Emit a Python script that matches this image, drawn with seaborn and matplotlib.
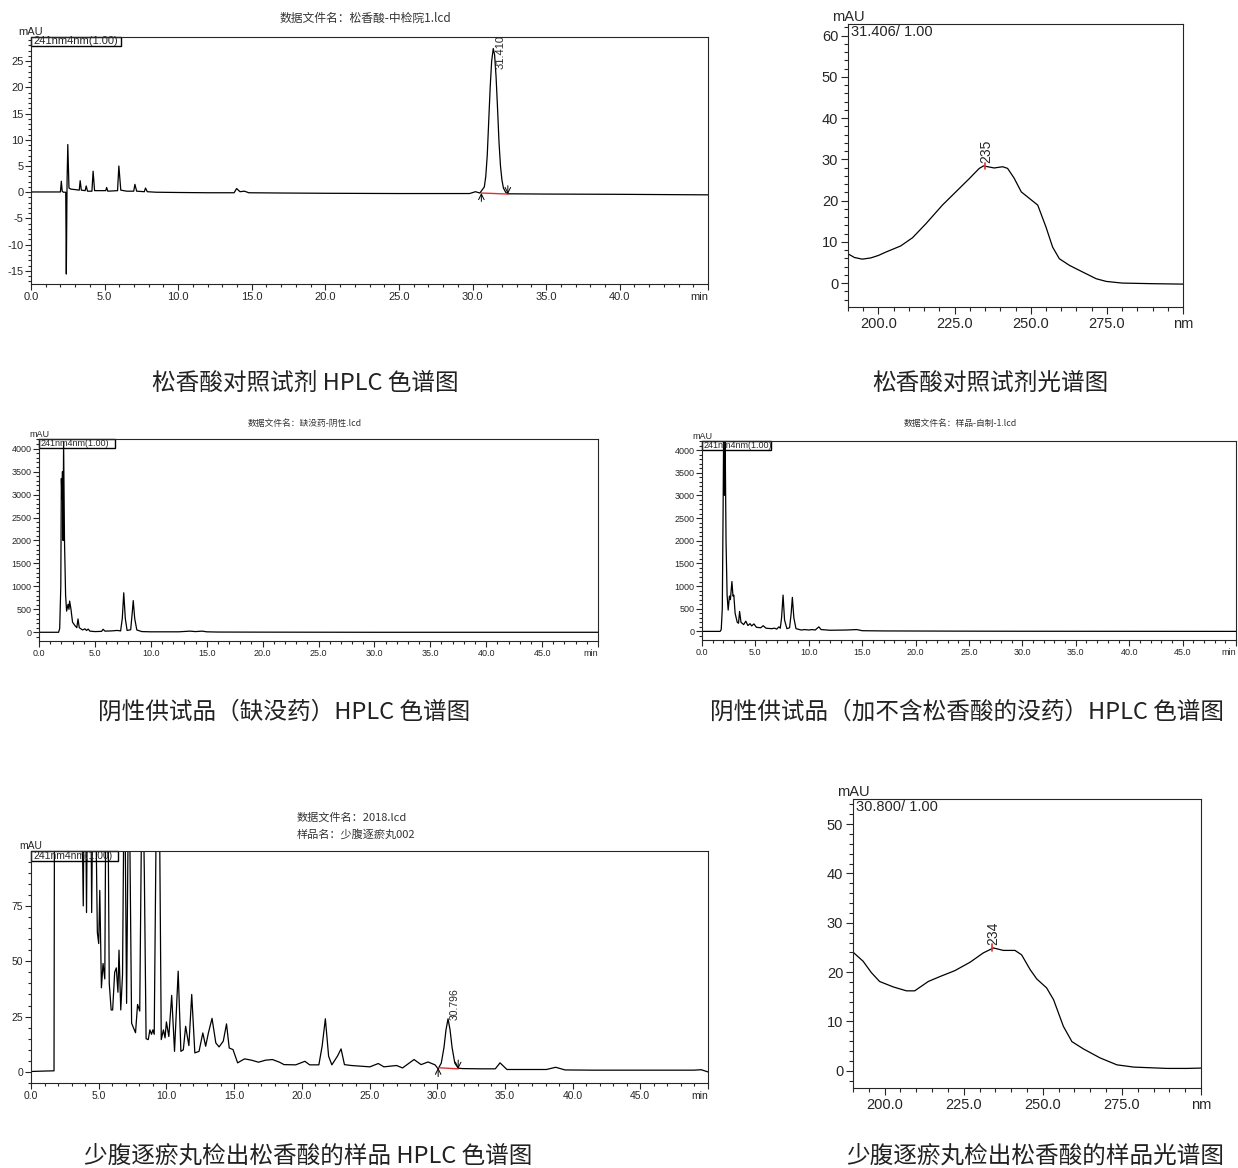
import numpy as np
import pandas as pd
import matplotlib
matplotlib.use('Agg')
import matplotlib.pyplot as plt
import seaborn as sns
from matplotlib.ticker import MultipleLocator, FixedLocator, FixedFormatter
from matplotlib.patches import Rectangle

# ---------------- data ----------------
# 松香酸对照试剂 HPLC  (min, mAU)
ref_trace = [(0, 0.05), (1.0, 0.05), (2.0, 0.05), (2.06, 2.1), (2.12, 0.2), (2.2, 0.0),
             (2.36, 0.0), (2.40, -15.6), (2.45, 2.0), (2.50, 9.1), (2.58, 0.8), (2.7, 0.6),
             (3.0, 0.5), (3.28, 0.4), (3.34, 2.2), (3.42, 0.4), (3.68, 0.3), (3.75, 1.2),
             (3.84, 0.2), (4.14, 0.2), (4.22, 4.0), (4.32, 0.3), (4.7, 0.3), (5.08, 0.3),
             (5.14, 0.9), (5.22, 0.2), (5.88, 0.3), (5.97, 5.0), (6.1, 0.4), (6.5, 0.2),
             (6.98, 0.2), (7.06, 1.5), (7.18, 0.2), (7.7, 0.1), (7.78, 0.8), (7.9, 0.1),
             (8.5, 0.0), (10, -0.05), (12, -0.1), (13.8, -0.1), (13.97, 0.7), (14.2, 0.1),
             (14.5, 0.2), (14.8, -0.1), (17, -0.15), (20, -0.2), (25, -0.25), (29.8, -0.25),
             (30.2, 0.1), (30.5, -0.15), (30.8, 1.0), (30.9, 3.0), (31.0, 7.0), (31.1, 13.5),
             (31.2, 20.0), (31.3, 25.0), (31.41, 27.4), (31.5, 26.2), (31.6, 22.0), (31.7, 16.0),
             (31.8, 9.5), (31.9, 5.0), (32.0, 2.3), (32.1, 0.8), (32.25, 0.0), (32.4, -0.3),
             (35, -0.35), (40, -0.4), (46, -0.5)]
ref_peak = (31.9, 23.5, '31.410')
ref_bounds = [(30.6, -0.15), (32.4, -0.35)]

# 松香酸对照试剂光谱 (nm, mAU)
spec_ref = [(190, 7.1), (192.1, 6.2), (194.7, 5.8), (197.5, 6.1), (200, 6.7), (202.4, 7.5),
            (207.3, 9.0), (211.2, 11.0), (215.6, 14.4), (221, 18.9), (225.4, 22.1),
            (229.8, 25.3), (233.1, 27.8), (234.5, 28.4), (238, 27.9), (240.8, 28.2),
            (242.4, 27.8), (244.5, 25.5), (246.9, 22.1), (249.6, 20.5), (252.3, 18.9),
            (255, 13.6), (257.2, 8.7), (259.4, 5.9), (262.7, 4.3), (267, 2.7), (271.5, 1.05),
            (274.8, 0.4), (280, 0.0), (290, -0.15), (300, -0.25)]
spec_ref_peak = (235, 28.4, '235')
spec_ref_tag = '31.406/ 1.00'

# 阴性供试品（缺没药）
neg1_trace = [(0, 0), (1.75, 0), (1.85, 80), (1.95, 1000), (2.0, 3350), (2.05, 2900),
              (2.1, 3500), (2.15, 2000), (2.2, 4150), (2.28, 2000), (2.38, 800), (2.47, 460),
              (2.6, 610), (2.68, 500), (2.74, 680), (2.85, 520), (3.0, 220), (3.2, 150),
              (3.38, 100), (3.49, 290), (3.6, 100), (3.9, 50), (4.1, 75), (4.25, 40),
              (4.4, 70), (4.55, 25), (5.0, 15), (5.6, 20), (5.73, 65), (5.9, 25), (6.5, 30),
              (7.0, 40), (7.3, 30), (7.45, 300), (7.58, 860), (7.72, 300), (7.88, 40),
              (8.2, 55), (8.33, 400), (8.43, 690), (8.56, 300), (8.75, 50), (9.2, 15),
              (10, 10), (12.5, 10), (13.5, 25), (14.0, 15), (14.6, 25), (15.0, 10), (16, 5),
              (20, 3), (30, 0), (50, 0)]

# 阴性供试品（加不含松香酸的没药）
neg2_trace = [(0, 0), (1.7, 0), (1.8, 40), (1.9, 500), (1.97, 2500), (2.02, 4200), (2.1, 3000),
              (2.17, 4200), (2.25, 2000), (2.35, 800), (2.45, 470), (2.57, 780), (2.66, 700),
              (2.8, 1100), (2.9, 780), (2.98, 800), (3.1, 400), (3.3, 200), (3.42, 180),
              (3.52, 440), (3.65, 200), (3.9, 150), (4.1, 225), (4.3, 130), (4.5, 170),
              (4.65, 120), (4.86, 165), (5.1, 90), (5.5, 80), (5.73, 125), (6.0, 70),
              (6.5, 60), (6.8, 70), (7.0, 50), (7.2, 100), (7.33, 70), (7.45, 300),
              (7.59, 800), (7.73, 250), (7.95, 60), (8.2, 80), (8.35, 400), (8.46, 750),
              (8.6, 300), (8.8, 60), (9.3, 30), (9.6, 40), (10.0, 30), (10.3, 40), (10.6, 30),
              (10.94, 100), (11.15, 40), (12, 25), (13.5, 30), (14.5, 40), (15, 15), (17, 10),
              (20, 8), (25, 5), (30, 3), (50, 0)]

# 少腹逐瘀丸样品 (values of 150 are off scale)
sample_trace = [(0, 0.2), (1.0, 0.4), (1.70, 0.5), (1.74, 150), (3.7, 150), (3.86, 75),
                (3.95, 150), (4.0, 150), (4.1, 72), (4.2, 150), (4.4, 150), (4.48, 72),
                (4.6, 150), (4.72, 150), (4.9, 63), (5.0, 58), (5.08, 82), (5.2, 38),
                (5.32, 49), (5.45, 42), (5.55, 150), (5.65, 150), (5.78, 40), (5.92, 28),
                (6.03, 28), (6.18, 45), (6.3, 47), (6.42, 36), (6.5, 55), (6.63, 28),
                (6.76, 44), (6.9, 150), (7.06, 31), (7.23, 150), (7.43, 22), (7.72, 17.7),
                (7.87, 30.5), (8.03, 27.5), (8.22, 150), (8.37, 90), (8.5, 15), (8.66, 14.6),
                (8.78, 19), (8.9, 17), (9.0, 19), (9.1, 17), (9.3, 150), (9.45, 150),
                (9.62, 14.6), (9.78, 19), (9.9, 15.4), (10.0, 22.6), (10.18, 16), (10.39, 34.6),
                (10.6, 9.3), (10.87, 45.5), (11.07, 9.3), (11.25, 10), (11.42, 20.6),
                (11.66, 11.9), (11.87, 35), (12.1, 8.6), (12.41, 9.3), (12.69, 17.6),
                (12.9, 11.6), (13.1, 17.6), (13.37, 24.2), (13.65, 13.1), (13.89, 11.3),
                (14.2, 13.9), (14.44, 21.7), (14.64, 10.8), (14.92, 10.1), (15.09, 7.1),
                (15.26, 4.1), (15.77, 5.9), (16.29, 5.3), (16.8, 4.4), (17.32, 5.3),
                (17.83, 5.6), (18.35, 4.4), (18.69, 3.3), (19.55, 3.2), (20.23, 4.8),
                (20.58, 3.2), (21.26, 3.2), (21.5, 11.6), (21.74, 24.0), (21.98, 7.1),
                (22.22, 3.2), (22.63, 7.1), (22.9, 10.4), (23.15, 3.3), (23.66, 2.9),
                (25.03, 2.3), (25.65, 3.8), (26.06, 2.3), (27.0, 2.9), (27.44, 1.8),
                (28.29, 5.6), (28.81, 3.3), (29.32, 4.5), (29.84, 3.2), (30.07, 1.4),
                (30.3, 4.0), (30.5, 11.0), (30.65, 19.0), (30.8, 24.0), (30.95, 19.0),
                (31.1, 11.0), (31.3, 4.0), (31.55, 1.7), (31.89, 1.5), (33.27, 1.4),
                (34.29, 1.4), (34.64, 4.1), (35.15, 1.1), (38.07, 1.1), (38.75, 2.1),
                (39.44, 0.9), (41.5, 0.8), (46.6, 0.8), (48.97, 0.8), (49.5, 1.0), (50, 0)]
sample_peak = (31.3, 23.5, '30.796')
sample_bounds = [(30.07, 1.9), (31.55, 1.4)]

# 样品光谱
spec_sample = [(190, 24.05), (193.2, 22.2), (195.8, 19.9), (198.4, 18.1), (202.7, 17.0),
               (206.9, 16.2), (209.5, 16.2), (213.8, 18.1), (217.5, 19.1), (222.2, 20.3),
               (227, 22.0), (231.2, 23.9), (234.4, 24.9), (237.5, 24.4), (241.2, 24.4),
               (243.3, 23.5), (246, 20.5), (248.1, 18.6), (251.2, 16.8), (253.4, 14.4),
               (256.5, 9.0), (259.2, 5.9), (262.9, 4.4), (268.1, 2.6), (273.4, 1.2),
               (278.7, 0.74), (289.3, 0.47), (295.6, 0.47), (300, 0.54)]
spec_sample_peak = (234, 24.9, '234')
spec_sample_tag = '30.800/ 1.00'

channel_label = '241nm4nm(1.00)'

# ---------------- drawing ----------------
sns.set_style('ticks')
plt.rcParams['font.family'] = ['Liberation Sans', 'Noto Sans CJK SC', 'DejaVu Sans']
plt.rcParams['axes.unicode_minus'] = False
plt.rcParams['axes.linewidth'] = 0.8

W, H = 1238, 1168
fig = plt.figure(figsize=(W / 100, H / 100), dpi=100)
CJK = ['Noto Sans CJK SC', 'DejaVu Sans']
NARROW = ['Liberation Sans Narrow', 'Liberation Sans']


def box(l, t, r, b):
    return [l / W, 1 - b / H, (r - l) / W, (b - t) / H]


def ftext(x, y, s, **kw):
    fig.text(x / W, 1 - y / H, s, **kw)


def trace(ax, pairs):
    df = pd.DataFrame(pairs, columns=['t', 'v'])
    sns.lineplot(data=df, x='t', y='v', ax=ax, color='black', lw=0.9,
                 estimator=None, sort=False)
    ax.set_xlabel('')
    ax.set_ylabel('')


def chrom(rect, pairs, xmax, ylim, ymaj, ymin_, fs, lab_w, lab_h):
    ax = fig.add_axes(box(*rect))
    trace(ax, pairs)
    ax.set_xlim(0, xmax)
    ax.set_ylim(*ylim)
    majors = [m for m in range(0, 50, 5) if m <= xmax - 3] + [xmax]
    ax.xaxis.set_major_locator(FixedLocator(majors))
    ax.xaxis.set_major_formatter(FixedFormatter([f'{m:.1f}' for m in majors[:-1]] + ['min']))
    ax.xaxis.set_minor_locator(MultipleLocator(1))
    ax.yaxis.set_major_locator(MultipleLocator(ymaj))
    ax.yaxis.set_minor_locator(MultipleLocator(ymin_))
    ax.tick_params(which='both', direction='out', labelsize=fs, width=0.8, pad=1.5)
    ax.tick_params(which='major', length=4)
    ax.tick_params(which='minor', length=2.5)
    for lab in ax.get_xticklabels() + ax.get_yticklabels():
        lab.set_family(NARROW)
    ax.get_xticklabels()[-1].set_horizontalalignment('right')
    aw = rect[2] - rect[0]
    ah = rect[3] - rect[1]
    ax.add_patch(Rectangle((0, 1 - lab_h / ah), lab_w / aw, lab_h / ah,
                           transform=ax.transAxes, fill=False, ec='black', lw=1.0, clip_on=False))
    ax.text(2 / aw, 1 - lab_h / ah / 2, channel_label, transform=ax.transAxes,
            ha='left', va='center', fontsize=fs, family=NARROW)
    ax.text(0.0, 1.0, 'mAU', transform=ax.transAxes, ha='center', va='bottom',
            fontsize=fs, family=NARROW)
    return ax


def spectrum(rect, pairs, ylim, peak, tag):
    ax = fig.add_axes(box(*rect))
    trace(ax, pairs)
    ax.set_xlim(190, 300)
    ax.set_ylim(*ylim)
    ax.xaxis.set_major_locator(FixedLocator([200, 225, 250, 275, 300]))
    ax.xaxis.set_major_formatter(FixedFormatter(['200.0', '225.0', '250.0', '275.0', 'nm']))
    ax.xaxis.set_minor_locator(MultipleLocator(5))
    ax.yaxis.set_major_locator(MultipleLocator(10))
    ax.yaxis.set_minor_locator(MultipleLocator(2))
    ax.tick_params(which='both', direction='out', labelsize=10.5, width=0.8, pad=2)
    ax.tick_params(which='major', length=5)
    ax.tick_params(which='minor', length=3)
    px, py, s = peak
    ax.plot([px, px], [py - 0.7, py + 0.7], color='#e03030', lw=1.2)
    ax.text(px + 0.3, py + 0.6, s, rotation=90, ha='center', va='bottom', fontsize=10)
    ax.text(0.01, 0.995, tag, transform=ax.transAxes, ha='left', va='top', fontsize=10.5)
    ax.text(0.0, 1.0, 'mAU', transform=ax.transAxes, ha='center', va='bottom', fontsize=10.5)
    return ax


def integration(ax, bounds, dy):
    (x0, y0), (x1, y1) = bounds
    ax.plot([x0, x1], [y0, y1], color='#e03030', lw=1.0)
    ax.annotate('', xy=(x0, y0), xytext=(x0, y0 - dy),
                arrowprops=dict(arrowstyle='->', lw=0.7, color='black', shrinkA=0, shrinkB=0))
    ax.annotate('', xy=(x1, y1), xytext=(x1, y1 + dy),
                arrowprops=dict(arrowstyle='->', lw=0.7, color='black', shrinkA=0, shrinkB=0))


# panel 1
ax1 = chrom((31, 37, 708, 284), ref_trace, 46, (-17.5, 29.6), 5, 1, 8, 90, 9)
integration(ax1, ref_bounds, 1.6)
ax1.text(ref_peak[0], ref_peak[1], ref_peak[2], rotation=90, ha='center', va='bottom',
         fontsize=8, family=NARROW)
ftext(365, 18, '数据文件名：松香酸-中检院1.lcd', ha='center', va='center', fontsize=8.5,
      family=CJK, color='#333333')

# panel 2
spectrum((848, 24, 1183, 307), spec_ref, (-5.8, 62.8), spec_ref_peak, spec_ref_tag)

# panel 3
chrom((39, 439, 598, 641), neg1_trace, 50, (-190, 4210), 500, 100, 6.5, 76, 9)
ftext(305, 423, '数据文件名：缺没药-阴性.lcd', ha='center', va='center', fontsize=6.3,
      family=CJK, color='#333333')

# panel 4
chrom((702, 441, 1236, 640), neg2_trace, 50, (-190, 4200), 500, 100, 6.5, 69, 9)
ftext(960, 423, '数据文件名：样品-自制-1.lcd', ha='center', va='center', fontsize=6.3,
      family=CJK, color='#333333')

# panel 5
ax5 = chrom((31, 851, 708, 1083), sample_trace, 50, (-5, 99.8), 25, 5, 7.5, 87, 10)
integration(ax5, sample_bounds, 4)
ax5.text(sample_peak[0], sample_peak[1], sample_peak[2], rotation=90, ha='center',
         va='bottom', fontsize=7.5, family=NARROW)
ftext(297, 818, '数据文件名：2018.lcd', ha='left', va='center', fontsize=8,
      family=CJK, color='#333333')
ftext(297, 834, '样品名：少腹逐瘀丸002', ha='left', va='center', fontsize=8,
      family=CJK, color='#333333')

# panel 6
spectrum((853, 799, 1201, 1088), spec_sample, (-3.5, 55.1), spec_sample_peak, spec_sample_tag)

# captions
cap = dict(ha='center', va='center', fontsize=17, family=CJK, color='#222222')
ftext(305, 383, '松香酸对照试剂 HPLC 色谱图', **cap)
ftext(990, 383, '松香酸对照试剂光谱图', **cap)
ftext(284, 712, '阴性供试品（缺没药）HPLC 色谱图', **cap)
ftext(967, 712, '阴性供试品（加不含松香酸的没药）HPLC 色谱图', **cap)
ftext(308, 1156, '少腹逐瘀丸检出松香酸的样品 HPLC 色谱图', **cap)
ftext(1035, 1156, '少腹逐瘀丸检出松香酸的样品光谱图', **cap)

fig.savefig('out.png', dpi=100, facecolor='white')
